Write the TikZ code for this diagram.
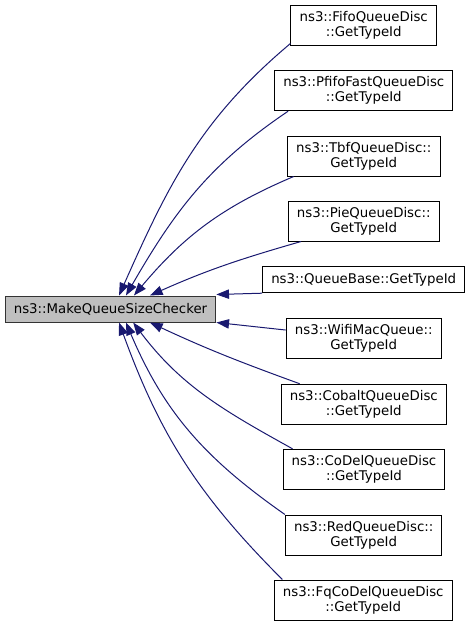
\documentclass[tikz,border=0pt]{standalone}
\usepackage{fontspec}
\setmainfont{DejaVu Sans}
\usetikzlibrary{arrows.meta}

\definecolor{calledge}{HTML}{191970}
\definecolor{rootfill}{HTML}{BFBFBF}

\begin{document}
\begin{tikzpicture}[
		x=0.75pt, y=-0.75pt,
		fn/.style={draw=black, fill=white, line width=0.75pt, align=center,
			font=\fontsize{10}{11.3}\selectfont, inner xsep=6.5pt, inner ysep=0pt,
			minimum height=30pt},
		root/.style={fn, fill=rootfill, draw=black!80, minimum height=19.5pt},
		single/.style={fn, minimum height=19.5pt},
		call/.style={calledge, line width=0.75pt, ->, >={Triangle[length=9.5pt, width=7pt]}}
		]
		\useasboundingbox (0,0) rectangle (469,625);
		
		% --- Caller ---
		\node[root] (checker) at (110.5,309) {ns3::MakeQueueSizeChecker};
		
		% --- Callers of the checker ---
		\node[fn] (fifo) at (363.7,25) {ns3::FifoQueueDisc\\::GetTypeId};
		\node[fn] (pfifo) at (363.8,90.7) {ns3::PfifoFastQueueDisc\\::GetTypeId};
		\node[fn] (tbf) at (363.8,156) {ns3::TbfQueueDisc::\\GetTypeId};
		\node[fn] (pie) at (363.7,221) {ns3::PieQueueDisc::\\GetTypeId};
		\node[single] (qbase) at (363.7,279.7) {ns3::QueueBase::GetTypeId};
		\node[fn] (wifi) at (363.7,338.7) {ns3::WifiMacQueue::\\GetTypeId};
		\node[fn] (cobalt) at (363.8,404.2) {ns3::CobaltQueueDisc\\::GetTypeId};
		\node[fn] (codel) at (364,469.3) {ns3::CoDelQueueDisc\\::GetTypeId};
		\node[fn] (red) at (363.7,535) {ns3::RedQueueDisc::\\GetTypeId};
		\node[fn] (fqcodel) at (363.2,600) {ns3::FqCoDelQueueDisc\\::GetTypeId};
		
		% Edges above the checker
		\draw[call] ([yshift=1.5pt]fifo.south west) to[out=220, in=66] ([xshift=6.4pt]checker.north);
		\draw[call] ([xshift=10.5pt]pfifo.south west) to[out=214, in=60] ([xshift=11.6pt]checker.north);
		\draw[call] ([xshift=5pt]tbf.south west) to[out=203, in=50] ([xshift=17.6pt]checker.north);
		\draw[call] ([xshift=10pt]pie.south west) to[out=196, in=24] ([xshift=29.6pt]checker.north);
		\draw[call] (qbase.south west) -- ([yshift=0.75pt]checker.north east);
		
		% Edges below the checker
		\draw[call] ([yshift=6.5pt]wifi.west) -- (checker.south east);
		\draw[call] ([xshift=14.2pt]cobalt.north west) to[out=160, in=-25] ([xshift=29.6pt]checker.south);
		\draw[call] ([xshift=7.5pt]codel.north west) to[out=151, in=-53] ([xshift=17pt]checker.south);
		\draw[call] (red.north west) to[out=145, in=-67] ([xshift=11.6pt]checker.south);
		\draw[call] ([xshift=6.5pt]fqcodel.north west) to[out=135, in=-70] ([xshift=6.4pt]checker.south);
		
	\end{tikzpicture}
\end{document}
